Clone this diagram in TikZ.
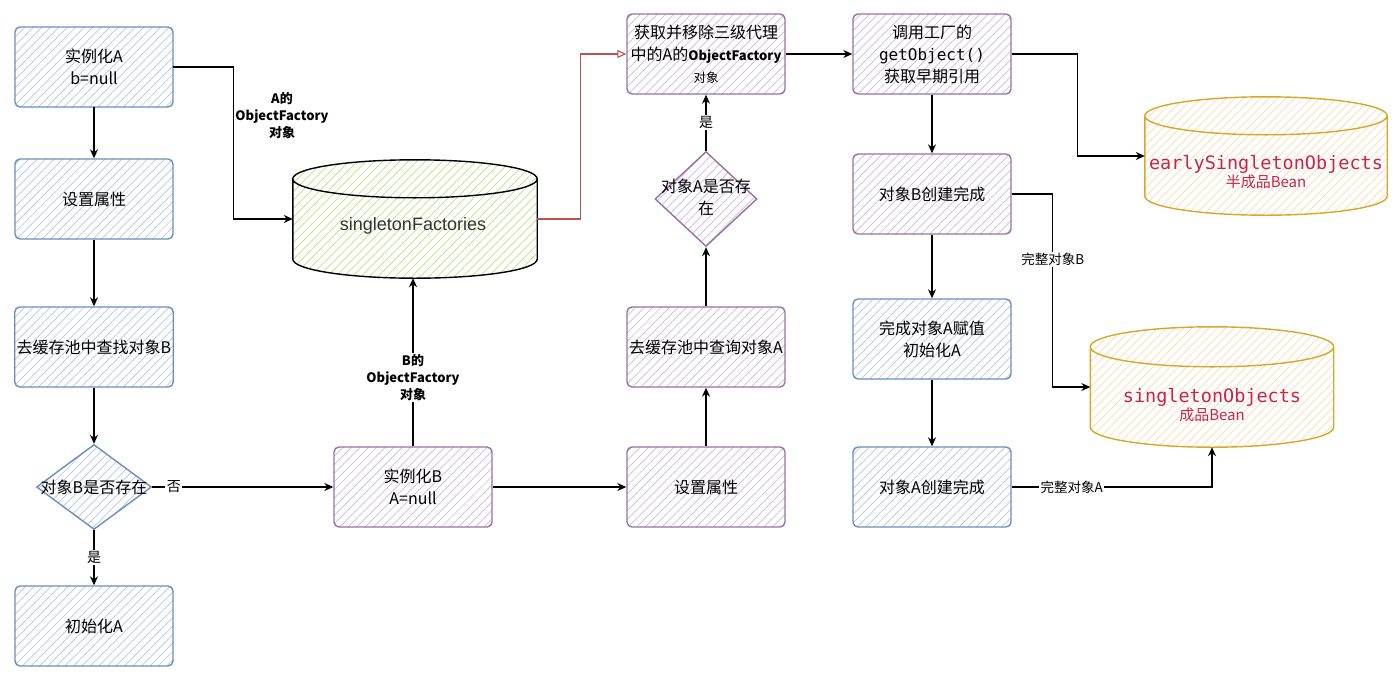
\documentclass[tikz,border=0pt]{standalone}
\usepackage{fontspec}
\setmainfont{Noto Sans CJK SC}
\newfontfamily\codefont{DejaVu Sans Mono}
\newfontfamily\helvfont{Liberation Sans}
\usetikzlibrary{arrows.meta,calc,patterns.meta,shapes.geometric}

\definecolor{blueline}{HTML}{6C8EBF}
\definecolor{bluehatch}{HTML}{B4C8E4}
\definecolor{purpleline}{HTML}{9673A6}
\definecolor{purplehatch}{HTML}{CDBCD8}
\definecolor{greenhatch}{HTML}{C2DE86}
\definecolor{goldline}{HTML}{D6A82A}
\definecolor{goldhatch}{HTML}{F3DDB0}
\definecolor{redline}{HTML}{B85450}
\definecolor{beanred}{HTML}{C7254E}

\tikzset{
  box/.style={draw, rounded corners=5pt, line width=1.4pt, minimum width=158pt,
    minimum height=80pt, align=center, inner sep=2pt, font=\fontsize{16}{22}\selectfont},
  hatch/.style={pattern={Lines[angle=45,distance=6pt,line width=0.7pt]}, pattern color=#1},
  bluebox/.style={box, draw=blueline, hatch=bluehatch},
  purplebox/.style={box, draw=purpleline, hatch=purplehatch},
  decision/.style={diamond, draw, line width=1.4pt, inner sep=0pt, font=\fontsize{16}{22}\selectfont},
  flow/.style={-{Stealth[length=9pt,width=8pt]}, line width=1.4pt},
  redflow/.style={-{Triangle[open,length=9pt,width=8pt]}, line width=1.1pt, draw=redline},
  tag/.style={fill=white, inner sep=1.5pt, font=\fontsize{14}{16}\selectfont},
  facttag/.style={align=center, inner sep=1.5pt, font=\bfseries\fontsize{13}{17}\selectfont},
  drum/.style={rectangle, inner sep=0pt},
}

% cylinder body drawn round an empty node
\newcommand{\drumshape}[3]{%
  \path[#2] let \p1=(#1.north west), \p2=(#1.south east), \n1={(\x2-\x1)/2} in
    (\x1,{\y1-#3}) -- (\x1,{\y2+#3})
    arc[start angle=180, end angle=360, x radius=\n1, y radius=#3]
    -- (\x2,{\y1-#3})
    arc[start angle=0, end angle=180, x radius=\n1, y radius=#3] -- cycle
    (\x1,{\y1-#3}) arc[start angle=180, end angle=360, x radius=\n1, y radius=#3];
}

\begin{document}
\begin{tikzpicture}[x=1pt, y=-1pt]
  \useasboundingbox[fill=white] (0,0) rectangle (1400,680);

  %%%%% left column %%%%%
  \node[bluebox] (instA) at (94,67) {实例化A\\b=null};
  \node[bluebox] (propA) at (94,199) {设置属性};
  \node[bluebox] (findB) at (94,347) {去缓存池中查找对象B};
  \node[decision, draw=blueline, hatch=bluehatch, minimum width=115pt, minimum height=85pt]
    (hasB) at (94,487) {\makebox[0pt]{对象B是否存在}};
  \node[bluebox] (initA) at (94,626) {初始化A};

  %%%%% caches %%%%%
  \node[drum, minimum width=244pt, minimum height=118pt] (sF) at (415,219) {};
  \drumshape{sF}{draw, line width=1.4pt, hatch=greenhatch}{19pt}
  \node[font=\helvfont\fontsize{18}{20}\selectfont, text=black!80] (sFtext) at (413,226) {singletonFactories};

  \node[drum, minimum width=242pt, minimum height=118pt] (eSO) at (1266,156) {};
  \drumshape{eSO}{draw=goldline, line width=1.4pt, hatch=goldhatch}{19pt}
  \node[align=center, text=beanred] (eSOtext) at (1266,172)
    {{\codefont\fontsize{18.5}{22}\selectfont earlySingletonObjects}\\{\fontsize{15}{18}\selectfont 半成品Bean}};

  \node[drum, minimum width=243pt, minimum height=120pt] (sO) at (1212,387) {};
  \drumshape{sO}{draw=goldline, line width=1.4pt, hatch=goldhatch}{20pt}
  \node[align=center, text=beanred] (sOtext) at (1212,405)
    {{\codefont\fontsize{18.5}{22}\selectfont singletonObjects}\\{\fontsize{15}{18}\selectfont 成品Bean}};

  %%%%% B branch %%%%%
  \node[purplebox] (instB) at (413,487) {实例化B\\A=null};
  \node[purplebox] (propB) at (706,487) {设置属性};
  \node[purplebox] (findA) at (706,347) {去缓存池中查询对象A};
  \node[decision, draw=purpleline, hatch=purplehatch, minimum width=102pt, minimum height=95pt]
    (hasA) at (706,199) {\makebox[0pt]{\begin{tabular}{@{}c@{}}对象A是否存\\在\end{tabular}}};
  \node[purplebox] (getF) at (706,54)
    {获取并移除三级代理\\中的A的{\bfseries\fontsize{13}{21}\selectfont ObjectFactory}\\{\fontsize{12.5}{16}\selectfont 对象}};
  \node[purplebox] (callF) at (932,54) {调用工厂的\\{\codefont getObject()}\\获取早期引用};
  \node[purplebox] (doneB) at (932,194) {对象B创建完成};
  \node[bluebox] (fillA) at (932,339) {完成对象A赋值\\初始化A};
  \node[bluebox] (doneA) at (932,487) {对象A创建完成};

  %%%%% connectors %%%%%
  \draw[flow] (instA) -- (propA);
  \draw[flow] (propA) -- (findB);
  \draw[flow] (findB) -- (hasB);
  \draw[flow] (hasB) -- node[tag] {是} (initA);
  \draw[flow] (hasB) -- node[tag, pos=0.12] {否} (instB);

  \draw[flow] (instA.east) -- ++(60,0) |- (sF.west);
  \node[facttag] (tagA) at (282,116) {A的\\ObjectFactory\\对象};

  \draw[flow] (instB.north) -- node[facttag, fill=white, pos=0.41] {B的\\ObjectFactory\\对象} (instB.north |- sF.south);
  \draw[flow] (instB) -- (propB);
  \draw[flow] (propB) -- (findA);
  \draw[flow] (findA) -- (hasA);
  \draw[flow] (hasA) -- node[tag] {是} (getF);
  \draw[redflow] (sF.east) -- ++(43,0) |- (getF.west);

  \draw[flow] (getF) -- (callF);
  \draw[flow] (callF) -- (doneB);
  \draw[flow] (doneB) -- (fillA);
  \draw[flow] (fillA) -- (doneA);
  \draw[flow] (callF.east) -- ++(66,0) |- (eSO.west);
  \draw[flow] (doneB.east) -- ++(41,0) |- node[tag, pos=0.17, font=\fontsize{13.5}{15}\selectfont] {完整对象B} (sO.west);
  \draw[flow] (doneA.east) -| node[tag, pos=0.15, font=\fontsize{13.5}{15}\selectfont] {完整对象A} (sO.south);
\end{tikzpicture}
\end{document}
